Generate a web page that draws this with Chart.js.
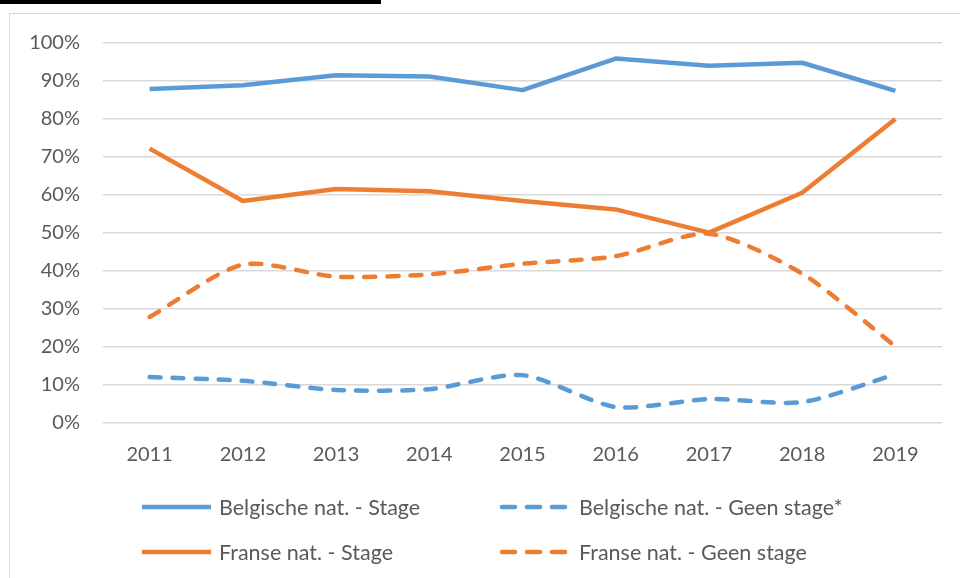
<!DOCTYPE html>
<html>
<head>
<meta charset="utf-8">
<script src="https://cdn.jsdelivr.net/npm/chart.js@4"></script>
<style>
  body { margin: 0; background: #fff; font-family: Lato, "Open Sans", sans-serif; }
  #wrap { position: relative; width: 960px; height: 578px; overflow: hidden; }
  #topbar { position: absolute; left: 0; top: 0; width: 381px; height: 4px; background: #000; }
  #frame { position: absolute; left: 9px; top: 13px; width: 960px; height: 600px; border-left: 1px solid #d9d9d9; border-top: 1px solid #d9d9d9; }
  canvas { position: absolute; left: 0; top: 0; }
  #legend { position: absolute; left: 0; top: 0; width: 960px; height: 578px; pointer-events: none; }
  .item { position: absolute; display: flex; align-items: center; font-size: 21.5px; color: #595959; white-space: nowrap; }
  .item svg { margin-right: 4px; }
</style>
</head>
<body>
<div id="wrap">
  <div id="topbar"></div>
  <div id="frame"></div>
  <canvas id="chart" width="960" height="578"></canvas>
  <div id="legend"></div>
</div>
<script>
// Data
const years = ['2011', '2012', '2013', '2014', '2015', '2016', '2017', '2018', '2019'];
const belgStage = [87.9, 88.9, 91.5, 91.2, 87.6, 95.9, 94.0, 94.8, 87.4];
const belgGeen = [12.1, 11.1, 8.7, 8.9, 12.6, 4.2, 6.3, 5.5, 12.8];
const fransStage = [72.2, 58.4, 61.6, 61.0, 58.4, 56.2, 50.1, 60.6, 80.0];
const fransGeen = [27.9, 41.7, 38.5, 39.1, 41.9, 43.9, 49.8, 39.3, 20.2];
const seriesNames = ['Belgische nat. - Stage', 'Belgische nat. - Geen stage*', 'Franse nat. - Stage', 'Franse nat. - Geen stage'];

const blue = '#5B9BD5';
const orange = '#ED7D31';

function line(label, data, color, dashed) {
    return {
        label: label,
        data: data,
        borderColor: color,
        backgroundColor: color,
        borderWidth: 4.5,
        borderDash: dashed ? [11, 12] : [],
        borderCapStyle: dashed ? 'round' : 'butt',
        borderJoinStyle: 'round',
        tension: dashed ? 0.25 : 0,
        pointRadius: 0,
        fill: false
    };
}

const datasets = [
    line(seriesNames[0], belgStage, blue, false),
    line(seriesNames[1], belgGeen, blue, true),
    line(seriesNames[2], fransStage, orange, false),
    line(seriesNames[3], fransGeen, orange, true)
];

new Chart(document.getElementById('chart'), {
    type: 'line',
    data: { labels: years, datasets: datasets },
    options: {
        responsive: false,
        animation: false,
        layout: { padding: { top: 43, right: 18, left: 0, bottom: 0 } },
        plugins: { legend: { display: false }, tooltip: { enabled: false } },
        scales: {
            x: {
                offset: true,
                grid: { display: false, drawTicks: false },
                border: { display: false },
                ticks: { color: '#595959', font: { family: 'Lato', size: 20 }, padding: 20, maxRotation: 0 },
                afterFit: s => { s.height = 155; }
            },
            y: {
                min: 0,
                max: 100,
                grid: { color: '#d9d9d9', lineWidth: 1.5, drawTicks: false },
                border: { display: false },
                ticks: {
                    stepSize: 10,
                    color: '#595959',
                    font: { family: 'Lato', size: 20 },
                    padding: 23,
                    callback: v => v + '%'
                },
                afterFit: s => { s.width = 103; }
            }
        }
    }
});

// Legend (2 columns)
const legend = document.getElementById('legend');
const pos = [[139, 507], [499, 507], [139, 552], [499, 552]];
datasets.forEach((d, i) => {
    const el = document.createElement('div');
    el.className = 'item';
    el.style.left = pos[i][0] + 'px';
    el.style.top = (pos[i][1] - 14) + 'px';
    const dash = d.borderDash.length ? 'stroke-dasharray="13 12" stroke-linecap="round"' : '';
    el.innerHTML = `<svg width="76" height="28"><line x1="3" y1="14" x2="72" y2="14" stroke="${d.borderColor}" stroke-width="4.5" ${dash}></line></svg><span>${d.label}</span>`;
    legend.appendChild(el);
});
</script>
</body>
</html>
